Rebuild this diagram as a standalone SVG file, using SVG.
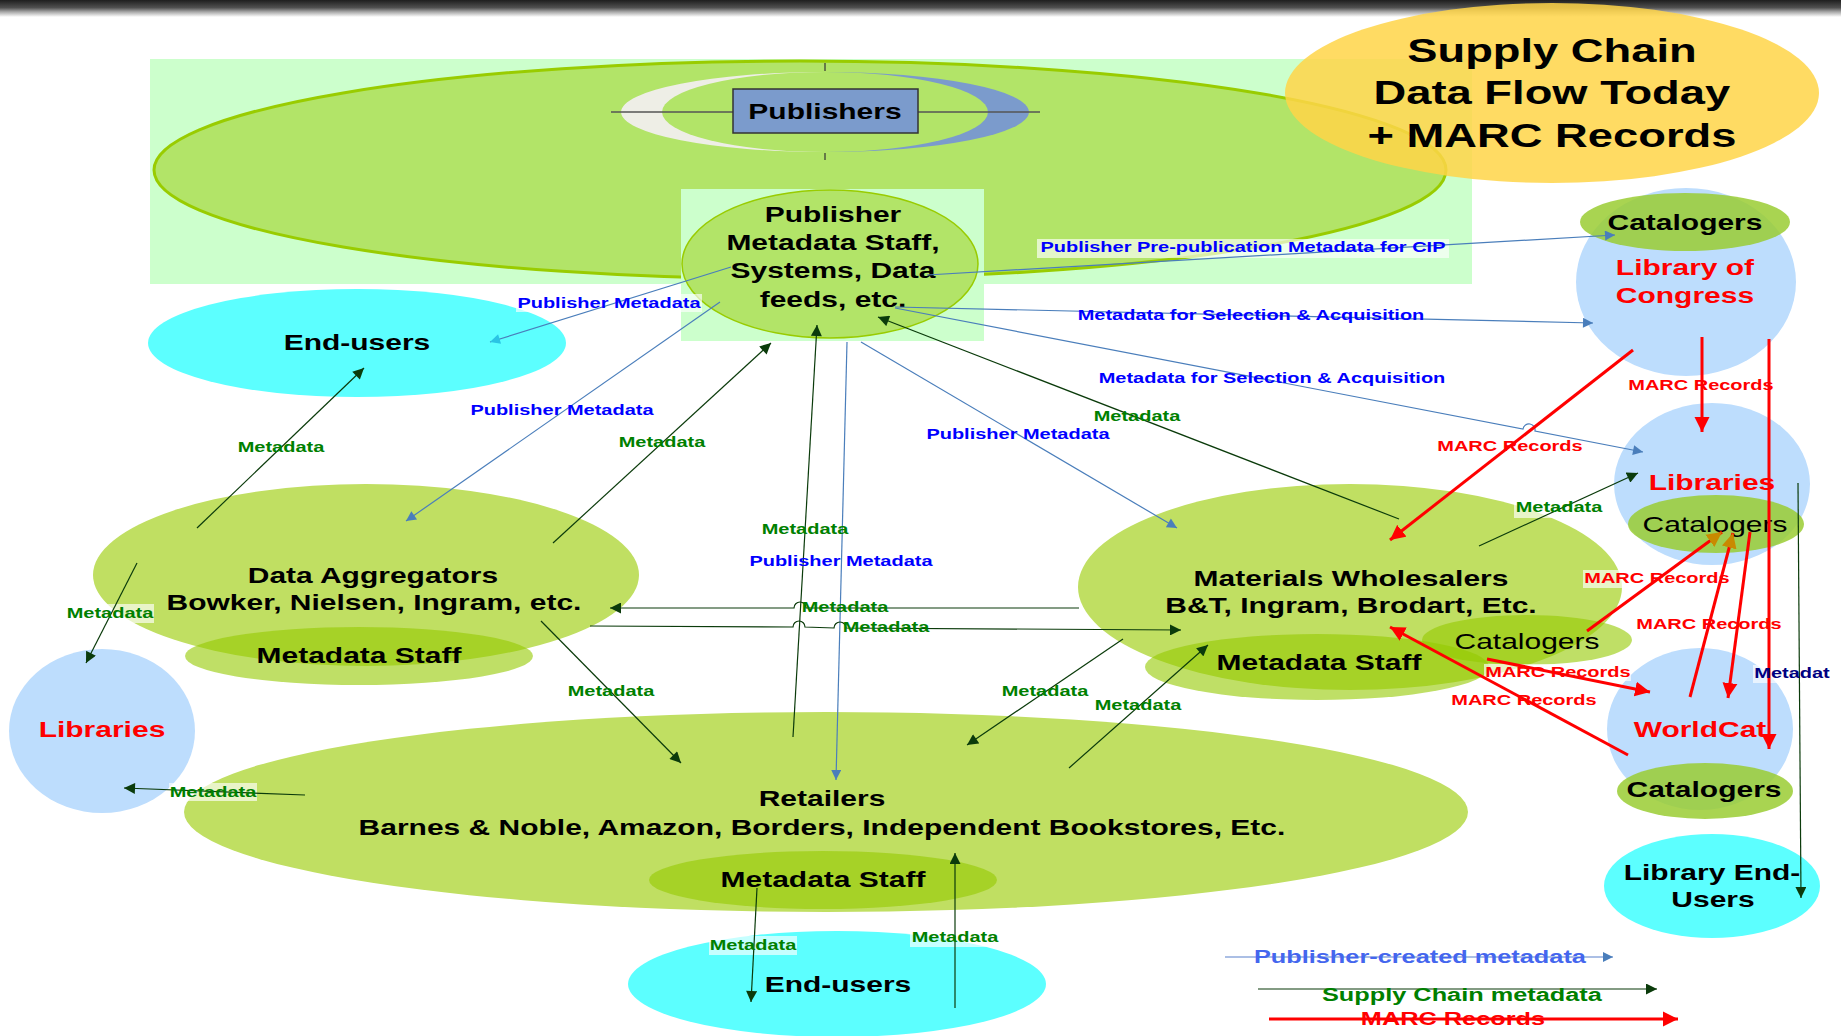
<svg xmlns="http://www.w3.org/2000/svg" width="1841" height="1036" viewBox="0 0 1841 1036">
<defs>
<style>
text{font-family:"Liberation Sans",Arial,sans-serif;font-weight:bold;text-anchor:middle;transform-box:fill-box;transform-origin:center;transform:scaleX(1.333)}
.n{font-size:22.5px;fill:#000}
.red{fill:#FF0000}
.reg{font-weight:normal}
.ttl{font-size:34px;fill:#000}
.lb{font-size:15px}
.bl{fill:#0000FF}
.gr{fill:#008000}
.rd{fill:#FF0000}
.nv{fill:#000080}
.lg{font-size:19px}
.cb{stroke:#4A7EBB;stroke-width:1.2;fill:none}
.cg{stroke:#0B3B0B;stroke-width:1.2;fill:none}
.cr{stroke:#FF0000;stroke-width:3;fill:none}
.lbg{fill:#FFFFFF;fill-opacity:0.65}
.main{fill:#C0DF62}
.staff{fill:#94CA00;fill-opacity:0.6}
.cat{fill:#9ACD32;fill-opacity:0.85}
.lib{fill:#BDDDFD}
.cyan{fill:#5CFFFF}
</style>
<linearGradient id="topbar" x1="0" y1="0" x2="0" y2="1">
<stop offset="0" stop-color="#1E1E1E"/>
<stop offset="0.45" stop-color="#505050"/>
<stop offset="0.7" stop-color="#A8A8A8"/>
<stop offset="1" stop-color="#FFFFFF"/>
</linearGradient>
<marker id="mb" viewBox="0 0 10 10" refX="10" refY="5" markerWidth="12" markerHeight="10" markerUnits="userSpaceOnUse" orient="auto"><path d="M0,0 L10,5 L0,10 z" fill="#4A7EBB"/></marker>
<marker id="mc" viewBox="0 0 10 10" refX="10" refY="5" markerWidth="12" markerHeight="10" markerUnits="userSpaceOnUse" orient="auto"><path d="M0,0 L10,5 L0,10 z" fill="#2BC4E4"/></marker>
<marker id="mg" viewBox="0 0 10 10" refX="10" refY="5" markerWidth="12" markerHeight="11" markerUnits="userSpaceOnUse" orient="auto"><path d="M0,0 L10,5 L0,10 z" fill="#0B3B0B"/></marker>
<marker id="mr" viewBox="0 0 10 10" refX="10" refY="5" markerWidth="15" markerHeight="16" markerUnits="userSpaceOnUse" orient="auto"><path d="M0,0 L10,5 L0,10 z" fill="#FF0000"/></marker>
<marker id="mo" viewBox="0 0 10 10" refX="10" refY="5" markerWidth="15" markerHeight="16" markerUnits="userSpaceOnUse" orient="auto"><path d="M0,0 L10,5 L0,10 z" fill="#C98A00"/></marker>
</defs>
<rect width="1841" height="1036" fill="#FFFFFF"/>
<rect width="1841" height="17" fill="url(#topbar)"/>

<g id="publishers">
<rect x="150" y="59" width="1322" height="225" fill="#CCFFCC"/>
<ellipse cx="800" cy="170" rx="646" ry="109" fill="#B2E468" stroke="#99CC00" stroke-width="3"/>
<path d="M825,72 A204,40 0 0 0 825,152 Z" fill="#EEEEE6"/>
<path d="M825,72 A204,40 0 0 1 825,152 Z" fill="#7B9BCC"/>
<ellipse cx="825" cy="112" rx="163" ry="40" fill="#B2E468"/>
<line x1="611" y1="112" x2="1040" y2="112" stroke="#555" stroke-width="1.5"/>
<line x1="825" y1="63" x2="825" y2="71" stroke="#333" stroke-width="1.2"/>
<line x1="825" y1="153" x2="825" y2="160" stroke="#333" stroke-width="1.2"/>
<rect x="733" y="89" width="185" height="44" fill="#7B9BCC" stroke="#333" stroke-width="1.5"/>
<text class="n" x="825" y="119">Publishers</text>
</g>

<g id="publisher-metadata-staff">
<rect x="681" y="189" width="303" height="152" fill="#CCFFCC"/>
<ellipse cx="830" cy="264" rx="148" ry="74" fill="#B2E468" stroke="#99CC00" stroke-width="1.5"/>
<text class="n" x="833" y="222">Publisher</text>
<text class="n" x="833" y="250">Metadata Staff,</text>
<text class="n" x="833" y="278">Systems, Data</text>
<text class="n" x="833" y="307">feeds, etc.</text>
</g>

<g id="title">
<ellipse cx="1552" cy="93" rx="267" ry="90" fill="#FFD548" fill-opacity="0.85"/>
<text class="ttl" x="1552" y="62">Supply Chain</text>
<text class="ttl" x="1552" y="104">Data Flow Today</text>
<text class="ttl" x="1552" y="147">+ MARC Records</text>
</g>

<g id="end-users-top">
<ellipse class="cyan" cx="357" cy="343" rx="209" ry="54"/>
<text class="n" x="357" y="350">End-users</text>
</g>

<g id="data-aggregators">
<ellipse class="main" cx="366" cy="575" rx="273" ry="91"/>
<ellipse class="staff" cx="359" cy="656" rx="174" ry="29"/>
<text class="n" x="373" y="583">Data Aggregators</text>
<text class="n" x="374" y="610">Bowker, Nielsen, Ingram, etc.</text>
<text class="n" x="359" y="663">Metadata Staff</text>
</g>

<g id="materials-wholesalers">
<ellipse class="main" cx="1350" cy="587" rx="272" ry="103"/>
<ellipse class="staff" cx="1317" cy="667" rx="172" ry="33"/>
<ellipse class="staff" cx="1527" cy="640" rx="105" ry="25"/>
<text class="n" x="1351" y="586">Materials Wholesalers</text>
<text class="n" x="1351" y="613">B&amp;T, Ingram, Brodart, Etc.</text>
<text class="n" x="1319" y="670">Metadata Staff</text>
<text class="n reg" x="1527" y="649">Catalogers</text>
</g>

<g id="retailers">
<ellipse class="main" cx="826" cy="812" rx="642" ry="100"/>
<ellipse class="staff" cx="823" cy="880" rx="174" ry="29"/>
<text class="n" x="822" y="806">Retailers</text>
<text class="n" x="822" y="835">Barnes &amp; Noble, Amazon, Borders, Independent Bookstores, Etc.</text>
<text class="n" x="823" y="887">Metadata Staff</text>
</g>

<g id="end-users-bottom">
<ellipse class="cyan" cx="837" cy="984" rx="209" ry="53"/>
<text class="n" x="838" y="992">End-users</text>
</g>

<g id="libraries-left">
<ellipse class="lib" cx="102" cy="731" rx="93" ry="82"/>
<text class="n red" x="102" y="737">Libraries</text>
</g>

<g id="library-of-congress">
<ellipse class="lib" cx="1686" cy="282" rx="110" ry="94"/>
<ellipse class="cat" cx="1685" cy="222" rx="105" ry="29"/>
<text class="n" x="1685" y="230">Catalogers</text>
<text class="n red" x="1685" y="275">Library of</text>
<text class="n red" x="1685" y="303">Congress</text>
</g>

<g id="libraries-right">
<ellipse class="lib" cx="1712" cy="484" rx="98" ry="81"/>
<ellipse class="cat" cx="1716" cy="524" rx="88" ry="29"/>
<text class="n red" x="1712" y="490">Libraries</text>
<text class="n reg" x="1715" y="532">Catalogers</text>
</g>

<g id="worldcat">
<ellipse class="lib" cx="1700" cy="729" rx="93" ry="81"/>
<ellipse class="cat" cx="1705" cy="791" rx="88" ry="28"/>
<text class="n red" x="1700" y="737">WorldCat</text>
<text class="n" x="1704" y="797">Catalogers</text>
</g>

<g id="library-end-users">
<ellipse class="cyan" cx="1712" cy="886" rx="108" ry="52"/>
<text class="n" x="1712" y="880">Library End-</text>
<text class="n" x="1713" y="907">Users</text>
</g>

<g id="connectors">
<!-- label backgrounds -->
<rect class="lbg" x="516" y="294" width="186" height="18"/>
<rect class="lbg" x="1037" y="239" width="412" height="19"/>
<rect class="lbg" x="66" y="604" width="88" height="19"/>
<rect class="lbg" x="169" y="783" width="88" height="18"/>
<rect class="lbg" x="1514" y="500" width="88" height="18"/>
<rect class="lbg" x="709" y="936" width="88" height="19"/>
<rect class="lbg" x="910" y="929" width="88" height="18"/>
<rect class="lbg" x="1753" y="665" width="77" height="18"/>
<rect class="lbg" x="1484" y="664" width="147" height="17"/>
<rect class="lbg" x="1450" y="691" width="148" height="17"/>
<rect class="lbg" x="1583" y="570" width="40" height="18"/>

<!-- publisher metadata (blue) -->
<path class="cb" d="M731,267 L490,342" marker-end="url(#mc)"/>
<path class="cb" d="M720,302 L406,521" marker-end="url(#mb)"/>
<path class="cb" d="M847,342 L836,780" marker-end="url(#mb)"/>
<path class="cb" d="M861,342 L1177,528" marker-end="url(#mb)"/>
<path class="cb" d="M895,307 L1593,323" marker-end="url(#mb)"/>
<path class="cb" d="M895,308 L1523,429 A6,6 0 0 1 1535,431 L1643,452" marker-end="url(#mb)"/>
<path class="cb" d="M927,275 L1615,235" marker-end="url(#mb)"/>

<!-- supply chain metadata (green) -->
<path class="cg" d="M197,528 L364,368" marker-end="url(#mg)"/>
<path class="cg" d="M553,543 L771,343" marker-end="url(#mg)"/>
<path class="cg" d="M137,563 L86,663" marker-end="url(#mg)"/>
<path class="cg" d="M305,795 L124,788" marker-end="url(#mg)"/>
<path class="cg" d="M541,621 L681,763" marker-end="url(#mg)"/>
<path class="cg" d="M793,737 L817,325" marker-end="url(#mg)"/>
<path class="cg" d="M1079,608 L806,608 A6,6 0 0 0 794,608 L610,608" marker-end="url(#mg)"/>
<path class="cg" d="M590,626 L793,627 A6,6 0 0 1 805,627 L834,628 A6,6 0 0 1 846,628 L1181,630" marker-end="url(#mg)"/>
<path class="cg" d="M1399,519 L878,317" marker-end="url(#mg)"/>
<path class="cg" d="M1479,546 L1638,473" marker-end="url(#mg)"/>
<path class="cg" d="M1069,768 L1208,645" marker-end="url(#mg)"/>
<path class="cg" d="M1123,639 L967,745" marker-end="url(#mg)"/>
<path class="cg" d="M757,888 L751,1002" marker-end="url(#mg)"/>
<path class="cg" d="M955,1008 L955,853" marker-end="url(#mg)"/>
<path class="cg" d="M1798,483 L1801,898" marker-end="url(#mg)"/>

<!-- MARC records (red) -->
<path class="cr" d="M1702,337 L1702,432" marker-end="url(#mr)"/>
<path class="cr" d="M1769,339 L1769,749" marker-end="url(#mr)"/>
<path class="cr" d="M1633,350 L1390,540" marker-end="url(#mr)"/>
<path class="cr" d="M1587,631 L1722,532" marker-end="url(#mo)"/>
<path class="cr" d="M1690,697 L1733,533" marker-end="url(#mo)"/>
<path class="cr" d="M1750,532 L1728,698" marker-end="url(#mr)"/>
<path class="cr" d="M1487,659 L1650,692" marker-end="url(#mr)"/>
<path class="cr" d="M1628,755 L1390,627" marker-end="url(#mr)"/>

<!-- labels -->
<text class="lb bl" x="609" y="308">Publisher Metadata</text>
<text class="lb bl" x="562" y="415">Publisher Metadata</text>
<text class="lb bl" x="841" y="566">Publisher Metadata</text>
<text class="lb bl" x="1018" y="439">Publisher Metadata</text>
<text class="lb bl" x="1243" y="252">Publisher Pre-publication Metadata for CIP</text>
<text class="lb bl" x="1251" y="320">Metadata for Selection &amp; Acquisition</text>
<text class="lb bl" x="1272" y="383">Metadata for Selection &amp; Acquisition</text>
<text class="lb nv" x="1792" y="678">Metadat</text>

<text class="lb gr" x="281" y="452">Metadata</text>
<text class="lb gr" x="662" y="447">Metadata</text>
<text class="lb gr" x="110" y="618">Metadata</text>
<text class="lb gr" x="213" y="797">Metadata</text>
<text class="lb gr" x="611" y="696">Metadata</text>
<text class="lb gr" x="805" y="534">Metadata</text>
<text class="lb gr" x="845" y="612">Metadata</text>
<text class="lb gr" x="886" y="632">Metadata</text>
<text class="lb gr" x="1137" y="421">Metadata</text>
<text class="lb gr" x="1559" y="512">Metadata</text>
<text class="lb gr" x="1045" y="696">Metadata</text>
<text class="lb gr" x="1138" y="710">Metadata</text>
<text class="lb gr" x="753" y="950">Metadata</text>
<text class="lb gr" x="955" y="942">Metadata</text>

<text class="lb rd" x="1701" y="390">MARC Records</text>
<text class="lb rd" x="1510" y="451">MARC Records</text>
<text class="lb rd" x="1657" y="583">MARC Records</text>
<text class="lb rd" x="1709" y="629">MARC Records</text>
<text class="lb rd" x="1558" y="677">MARC Records</text>
<text class="lb rd" x="1524" y="705">MARC Records</text>
</g>

<g id="legend">
<path d="M1225,957 L1613,957" stroke="#8FAADC" stroke-width="1.5" fill="none" marker-end="url(#mb)"/>
<text class="lg" x="1420" y="963" style="fill:#4466EE">Publisher-created metadata</text>
<path d="M1258,989 L1657,989" stroke="#5A7A5A" stroke-width="1.5" fill="none" marker-end="url(#mg)"/>
<text class="lg gr" x="1462" y="1001">Supply Chain metadata</text>
<text class="lg rd" x="1453" y="1025">MARC Records</text>
<path d="M1269,1019 L1678,1019" stroke="#FF0000" stroke-width="3" fill="none" marker-end="url(#mr)"/>
</g>
</svg>
